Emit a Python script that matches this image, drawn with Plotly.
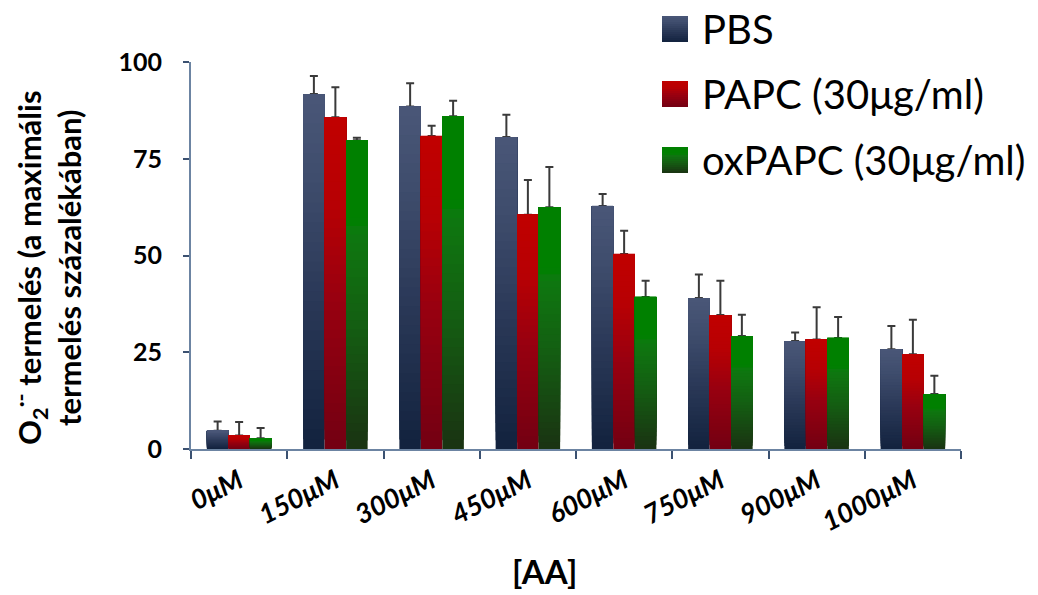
import plotly.graph_objects as go

# ---- data -------------------------------------------------------------
categories = ["0μM", "150μM", "300μM", "450μM", "600μM", "750μM", "900μM", "1000μM"]

pbs = [4.7, 91.7, 88.5, 80.6, 62.8, 39.0, 27.9, 25.8]
pbs_err = [2.4, 4.7, 6.0, 5.8, 3.1, 6.1, 2.2, 6.0]

papc = [3.5, 85.7, 80.9, 60.5, 50.4, 34.6, 28.3, 24.5]
papc_err = [3.5, 7.8, 2.6, 9.0, 6.0, 8.9, 8.3, 8.9]

oxpapc = [2.8, 79.8, 86.0, 62.5, 39.3, 29.2, 28.7, 14.2]
oxpapc_err = [2.6, 0.6, 4.0, 10.4, 4.2, 5.5, 5.4, 4.7]

series_names = ["PBS", "PAPC (30μg/ml)", "oxPAPC (30μg/ml)"]
y_ticks = [0, 25, 50, 75, 100]

# ---- styling ------------------------------------------------------------
# vertical colour ramps (bottom -> top) used to shade each bar
ramps = [
    [(0.0, "#12223e"), (0.45, "#2c3a59"), (0.75, "#3e4c6c"), (1.0, "#4a5778")],
    [(0.0, "#730012"), (0.45, "#980010"), (0.75, "#b80003"), (1.0, "#c00000")],
    [(0.0, "#1a3212"), (0.4, "#145e12"), (0.7, "#0e7810"), (0.74, "#008000"), (1.0, "#008000")],
]
N_STEPS = 36
AXIS_COLOR = "#6c84a2"
TICK_COLOR = "#3b5171"
FONT = "Lato"


def hex_to_rgb(h):
    h = h.lstrip("#")
    return tuple(int(h[i:i + 2], 16) for i in (0, 2, 4))


def ramp_color(stops, t):
    for (t0, c0), (t1, c1) in zip(stops, stops[1:]):
        if t <= t1:
            f = 0 if t1 == t0 else (t - t0) / (t1 - t0)
            a, b = hex_to_rgb(c0), hex_to_rgb(c1)
            return "rgb({},{},{})".format(*[round(a[i] + (b[i] - a[i]) * f) for i in range(3)])
    return "rgb({},{},{})".format(*hex_to_rgb(stops[-1][1]))


fig = go.Figure()

values = [pbs, papc, oxpapc]
errors = [pbs_err, papc_err, oxpapc_err]

for s, (vals, errs, stops) in enumerate(zip(values, errors, ramps)):
    # full-height bar carries the error bar; the layers above it add the shading
    for k in range(N_STEPS):
        frac = k / N_STEPS
        color = ramp_color(stops, (k + 0.5) / N_STEPS)
        kwargs = dict(
            x=categories,
            y=[v * (1 - frac) for v in vals],
            offsetgroup=str(s),
            marker=dict(color=color, line=dict(width=0)),
            showlegend=False,
            hoverinfo="skip" if k else None,
            name=series_names[s],
        )
        if k == 0:
            kwargs["error_y"] = dict(
                type="data", symmetric=False, array=errs,
                arrayminus=[0] * len(errs),
                color="#3a3a3a", thickness=2, width=4,
            )
        else:
            kwargs["base"] = [v * frac for v in vals]
        fig.add_trace(go.Bar(**kwargs))

# ---- custom legend -------------------------------------------------------
shapes = []
annotations = []
plot_l, plot_r, plot_t, plot_b = 191, 961, 62, 449
pw, ph = plot_r - plot_l, plot_b - plot_t


def px_x(x):
    return (x - plot_l) / pw


def px_y(y):
    return (plot_b - y) / ph


legend_rows = [29, 94, 160]
for s, yc in enumerate(legend_rows):
    top, bot = yc - 13, yc + 13
    n = 13
    for k in range(n):
        y0 = bot - (bot - top) * k / n
        y1 = bot - (bot - top) * (k + 1) / n
        shapes.append(dict(
            type="rect", xref="paper", yref="paper",
            x0=px_x(662), x1=px_x(688), y0=px_y(y0), y1=px_y(y1 - 0.5 if k < n - 1 else y1),
            fillcolor=ramp_color(ramps[s], (k + 0.5) / n), line=dict(width=0), layer="above",
        ))
    annotations.append(dict(
        text=series_names[s], xref="paper", yref="paper",
        x=px_x(700), y=px_y(yc), xanchor="left", yanchor="middle", showarrow=False,
        font=dict(family=FONT, size=40, color="#000000"),
    ))

# axis titles
annotations.append(dict(
    text="O<sub>2</sub><sup>·-</sup> termelés (a maximális<br>termelés százalékában)",
    xref="paper", yref="paper", x=px_x(47), y=px_y(268),
    xanchor="center", yanchor="middle", textangle=-90, showarrow=False,
    font=dict(family=FONT, size=31, color="#000000", weight="bold"),
))
annotations.append(dict(
    text="[AA]", xref="paper", yref="paper", x=px_x(544), y=px_y(571),
    xanchor="center", yanchor="middle", showarrow=False,
    font=dict(family=FONT, size=33, color="#000000", weight="bold"),
))

fig.update_layout(
    width=1038, height=595,
    margin=dict(l=plot_l, r=1038 - plot_r, t=plot_t, b=595 - plot_b),
    paper_bgcolor="white", plot_bgcolor="white",
    barmode="group", bargap=0.33, bargroupgap=0,
    showlegend=False,
    shapes=shapes, annotations=annotations,
    xaxis=dict(
        type="category", showgrid=False, zeroline=False,
        showline=True, linecolor=AXIS_COLOR, linewidth=2,
        ticks="outside", tickson="boundaries", ticklen=8, tickwidth=2, tickcolor=TICK_COLOR,
        tickangle=-27, ticklabelstandoff=4,
        tickfont=dict(family=FONT, size=27, color="#000000", weight="bold", style="italic"),
    ),
    yaxis=dict(
        range=[0, 100], tickvals=y_ticks, showgrid=False, zeroline=False,
        showline=True, linecolor=AXIS_COLOR, linewidth=2,
        ticks="outside", ticklen=6, tickwidth=2, tickcolor=TICK_COLOR,
        ticklabelstandoff=16,
        tickfont=dict(family=FONT, size=25, color="#000000", weight="bold"),
    ),
)

fig.write_html("out.html")
